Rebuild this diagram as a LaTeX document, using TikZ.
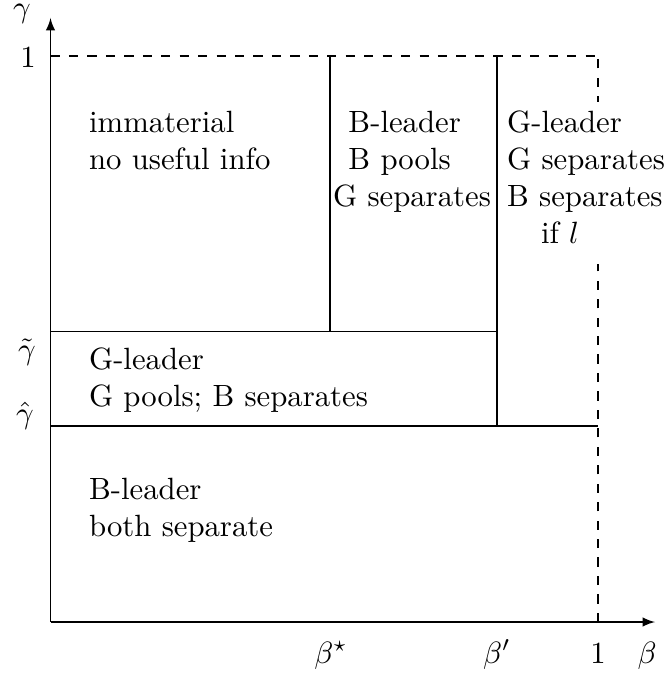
\documentclass[tikz,border=0pt]{standalone}
\usetikzlibrary{arrows.meta}
\begin{document}
\begin{tikzpicture}[x=0.3252pt,y=-0.3252pt,
  lbl/.style={inner sep=0pt},
  region/.style={anchor=north west, inner sep=0pt, align=left},
  axis/.style={-latex},
  bound/.style={dashed}]
\useasboundingbox (0,0) rectangle (668,679);
% named points
\coordinate (O) at (50.5,622);
\coordinate (Ytop) at (50.5,18);
\coordinate (Xend) at (655,622);
\coordinate (A1) at (50.5,56);
\coordinate (C11) at (598,56);
\coordinate (B10) at (598,622);
\coordinate (T0) at (50.5,331.5);
\coordinate (T1) at (497,331.5);
\coordinate (H0) at (50.5,426);
\coordinate (H1) at (598,426);
\coordinate (S0) at (330,331.5);
\coordinate (S1) at (330,56);
\coordinate (P0) at (497,426);
\coordinate (P1) at (497,56);
% dashed bounds
\draw[bound] (A1) -- (C11);
\draw[bound] (B10) -- (C11);
% right region text (covers the dashed line)
\node[region, fill=white, inner xsep=2pt, inner ysep=3pt] (r4) at (500.4,101.2)
  {G-leader\\G separates\\B separates\\\hspace*{11pt}if $l$\strut};
% region boundaries
\draw (T0) -- (T1);
\draw (H0) -- (H1);
\draw (S0) -- (S1);
\draw (P0) -- (P1);
% axes
\draw[axis] (O) -- (Ytop);
\draw[axis] (O) -- (Xend);
% region texts
\node[region] (r1) at (88.5,110.4) {immaterial\\no useful info};
\node[region] (r2) at (332.5,110.4) {\hspace*{5pt}B-leader\\\hspace*{5pt}B pools\\G separates};
\node[region] (r3) at (88.5,347) {G-leader\\G pools; B separates};
\node[region] (r5) at (88.5,478) {B-leader\\both separate};
% axis labels
\node[lbl] (gam) at (22,14) {$\gamma$};
\node[lbl] (oney) at (28,58) {$1$};
\node[lbl] (gt) at (27,352) {$\tilde\gamma$};
\node[lbl] (gh) at (25,416) {$\hat\gamma$};
\node[lbl, anchor=base] (bs) at (331,663) {$\beta^\star$};
\node[lbl, anchor=base] (bp) at (497,663) {$\beta'$};
\node[lbl, anchor=base] (onex) at (598,663) {$1$};
\node[lbl, anchor=base] (b) at (647,663) {$\beta$};
\end{tikzpicture}
\end{document}
